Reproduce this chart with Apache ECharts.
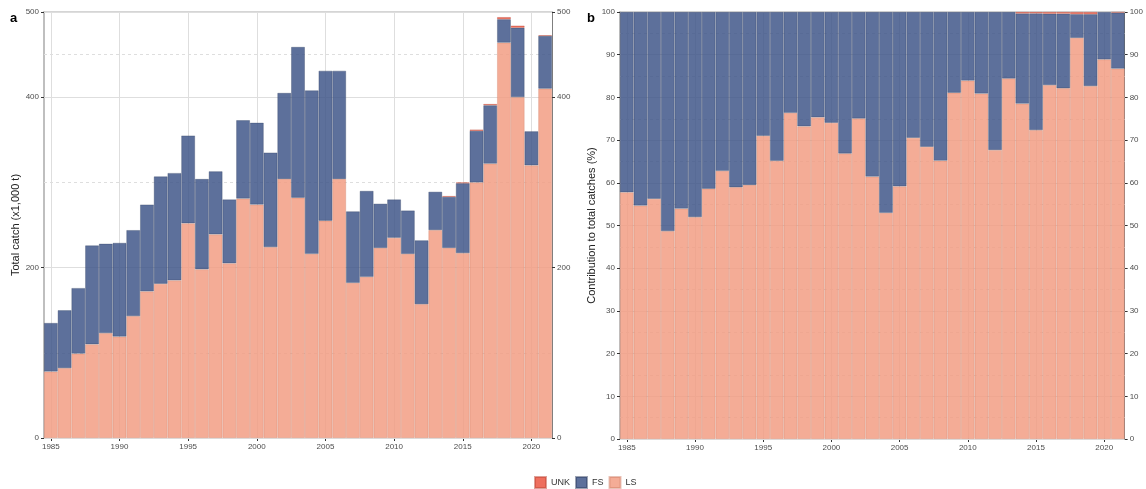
<!DOCTYPE html>
<html>
<head>
<meta charset="utf-8">
<script src="https://cdn.jsdelivr.net/npm/echarts@6/dist/echarts.min.js"></script>
<style>
  html, body { margin: 0; padding: 0; background: #fff; }
  #chart { width: 1146px; height: 489px; }
</style>
</head>
<body>
<div id="chart"></div>
<script>
// Annual catches by fishing mode (x1,000 t)
const years = [1985, 1986, 1987, 1988, 1989, 1990, 1991, 1992, 1993, 1994,
               1995, 1996, 1997, 1998, 1999, 2000, 2001, 2002, 2003, 2004,
               2005, 2006, 2007, 2008, 2009, 2010, 2011, 2012, 2013, 2014,
               2015, 2016, 2017, 2018, 2019, 2020, 2021];
const lsCatch = [78, 82, 99, 110, 123, 119, 143, 172, 181, 185,
                 252, 198, 239, 205, 281, 274, 224, 304, 282, 216,
                 255, 304, 182, 189, 223, 235, 216, 157, 244, 223,
                 217, 300, 322, 464, 400, 320, 410];
const fsCatch = [57, 68, 77, 116, 105, 110, 101, 102, 126, 126,
                 103, 106, 74, 75, 92, 96, 111, 101, 177, 192,
                 176, 127, 84, 101, 52, 45, 51, 75, 45, 60,
                 82, 60.5, 68.5, 27.5, 81.5, 40, 62];
const unkCatch = [0, 0, 0, 0, 0, 0, 0, 0, 0, 0,
                  0, 0, 0, 0, 0, 0, 0, 0, 0, 0,
                  0, 0, 0, 0, 0, 0, 0, 0, 0, 1,
                  1, 1.5, 1.5, 2.5, 2.5, 0, 0.7];

// Axis breaks
const catchTicks = [0, 200, 400, 500];
const catchMinor = [100, 300, 450];
const shareTicks = [0, 10, 20, 30, 40, 50, 60, 70, 80, 90, 100];
const shareMinor = [5, 15, 25, 35, 45, 55, 65, 75, 85, 95];
const yearTicks = [1985, 1990, 1995, 2000, 2005, 2010, 2015, 2020];

const yearLabels = years.map(String);
const totals = years.map((_, i) => lsCatch[i] + fsCatch[i] + unkCatch[i]);
const toShare = arr => arr.map((v, i) => v / totals[i] * 100);
const lsShare = toShare(lsCatch);
const fsShare = toShare(fsCatch);
const unkShare = toShare(unkCatch);

const FONT = 'Liberation Sans, Arial, Helvetica, sans-serif';
const GRID_COLOR = '#DEDEDE';
const colors = { LS: '#F29D84', FS: '#41578A', UNK: '#EB5642' };
const borders = {
  LS: 'rgba(205,125,100,0.55)',
  FS: 'rgba(45,60,95,0.55)',
  UNK: 'rgba(190,70,55,0.6)'
};
const isMajorYear = i => years[i] % 5 === 0;

// Background grid lines, kept beneath the bars
function gridLines(gridIdx, major, minor) {
  const solid = { type: 'solid', color: GRID_COLOR, width: 1 };
  const dashed = { type: [3, 3], color: GRID_COLOR, width: 1 };
  const data = []
    .concat(major.map(v => ({ yAxis: v, lineStyle: solid })))
    .concat(minor.map(v => ({ yAxis: v, lineStyle: dashed })))
    .concat(yearTicks.map(y => ({ xAxis: String(y), lineStyle: solid })));
  return {
    type: 'line', xAxisIndex: gridIdx * 2, yAxisIndex: gridIdx * 2,
    data: years.map(() => null), silent: true, z: 1,
    showSymbol: false,
    markLine: { symbol: 'none', silent: true, label: { show: false }, z: 1,
                animation: false, data: data }
  };
}

function barSeries(name, data, gridIdx) {
  return {
    name: name, type: 'bar', stack: 'total' + gridIdx,
    xAxisIndex: gridIdx * 2, yAxisIndex: gridIdx * 2,
    // empty years get no bar (and no outline)
    data: data.map(v => (v > 0 ? v : '-')),
    barCategoryGap: '0%', z: 3,
    itemStyle: { color: colors[name], opacity: 0.85,
                 borderColor: borders[name], borderWidth: 0.7 },
    emphasis: { disabled: true }
  };
}

function xAxes(gridIdx) {
  return [
    { type: 'category', gridIndex: gridIdx, data: yearLabels, boundaryGap: true,
      position: 'bottom',
      axisLine: { show: true, onZero: false, lineStyle: { color: '#7f7f7f', width: 1 } },
      axisTick: { show: true, alignWithLabel: true, interval: isMajorYear, length: 3,
                  lineStyle: { color: '#333' } },
      axisLabel: { interval: isMajorYear, fontSize: 8, color: '#4d4d4d', margin: 5,
                   fontFamily: FONT },
      splitLine: { show: false } },
    { type: 'category', gridIndex: gridIdx, data: yearLabels, boundaryGap: true,
      position: 'top',
      axisLine: { show: true, onZero: false, lineStyle: { color: '#c8c8c8', width: 1.5 } },
      axisTick: { show: false }, axisLabel: { show: false }, splitLine: { show: false } }
  ];
}

function yAxes(gridIdx, max, ticks, title) {
  const common = {
    type: 'value', gridIndex: gridIdx, min: 0, max: max,
    splitLine: { show: false },
    axisTick: { show: true, length: 3, customValues: ticks, lineStyle: { color: '#333' } },
    axisLabel: { fontSize: 8, color: '#4d4d4d', margin: 5, customValues: ticks,
                 fontFamily: FONT }
  };
  return [
    Object.assign({}, common, {
      position: 'left',
      axisLine: { show: true, lineStyle: { color: '#bfbfbf', width: 2 } },
      name: title, nameLocation: 'middle', nameGap: 21,
      nameTextStyle: { fontSize: 11, color: '#222', fontFamily: FONT }
    }),
    Object.assign({}, common, {
      position: 'right',
      axisLine: { show: true, lineStyle: { color: '#7f7f7f', width: 1 } }
    })
  ];
}

const chart = echarts.init(document.getElementById('chart'), null, { renderer: 'canvas' });
chart.setOption({
  animation: false,
  backgroundColor: '#fff',
  textStyle: { fontFamily: FONT },
  title: [
    { text: 'a', left: 5, top: 7, textStyle: { fontSize: 13, fontWeight: 'bold', color: '#000', fontFamily: FONT } },
    { text: 'b', left: 582, top: 7, textStyle: { fontSize: 13, fontWeight: 'bold', color: '#000', fontFamily: FONT } }
  ],
  legend: {
    data: ['UNK', 'FS', 'LS'], left: 529, top: 471,
    itemWidth: 11, itemHeight: 11, itemGap: 5, icon: 'rect',
    selectedMode: false,
    textStyle: { fontSize: 9, color: '#333', fontFamily: FONT }
  },
  grid: [
    { left: 44, top: 12, width: 508, height: 426 },
    { left: 620, top: 12, width: 508, height: 427 }
  ],
  xAxis: xAxes(0).concat(xAxes(1)),
  yAxis: yAxes(0, 500, catchTicks, 'Total catch (x1,000 t)')
    .concat(yAxes(1, 100, shareTicks, 'Contribution to total catches (%)')),
  series: [
    gridLines(0, catchTicks, catchMinor),
    barSeries('LS', lsCatch, 0),
    barSeries('FS', fsCatch, 0),
    barSeries('UNK', unkCatch, 0),
    gridLines(1, shareTicks, shareMinor),
    barSeries('LS', lsShare, 1),
    barSeries('FS', fsShare, 1),
    barSeries('UNK', unkShare, 1)
  ]
});
</script>
</body>
</html>
